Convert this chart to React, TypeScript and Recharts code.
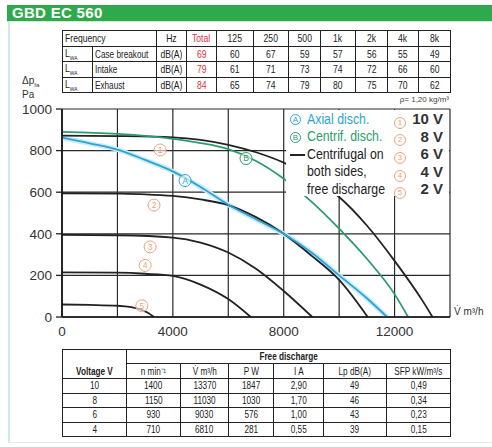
import React from 'react';
import { LineChart, Line, XAxis, YAxis, CartesianGrid, ReferenceDot } from 'recharts';

// fan curves, airflow q in m³/h, static pressure p in Pa
const curve10V = [
  { q: 0, p: 872 }, { q: 2000, p: 870 }, { q: 4000, p: 864 }, { q: 5000, p: 852 },
  { q: 6000, p: 828 }, { q: 7000, p: 792 }, { q: 8000, p: 742 }, { q: 9000, p: 670 },
  { q: 10000, p: 577 }, { q: 11000, p: 440 }, { q: 12000, p: 270 }, { q: 13000, p: 80 },
  { q: 13370, p: 0 },
];
const curve8V = [
  { q: 0, p: 595 }, { q: 2000, p: 593 }, { q: 3000, p: 590 }, { q: 4000, p: 582 },
  { q: 5000, p: 565 }, { q: 6000, p: 538 }, { q: 7000, p: 480 }, { q: 8000, p: 400 },
  { q: 9000, p: 295 }, { q: 10000, p: 178 }, { q: 11030, p: 0 },
];
const curve6V = [
  { q: 0, p: 395 }, { q: 2000, p: 393 }, { q: 4000, p: 382 }, { q: 5000, p: 358 },
  { q: 6000, p: 310 }, { q: 7000, p: 232 }, { q: 8000, p: 125 }, { q: 9030, p: 0 },
];
const curve4V = [
  { q: 0, p: 215 }, { q: 2000, p: 213 }, { q: 3000, p: 208 }, { q: 4000, p: 198 },
  { q: 5000, p: 156 }, { q: 6000, p: 86 }, { q: 6810, p: 0 },
];
const curve2V = [
  { q: 0, p: 60 }, { q: 1000, p: 58 }, { q: 2000, p: 54 }, { q: 2500, p: 47 },
  { q: 2800, p: 38 }, { q: 3100, p: 20 }, { q: 3320, p: 0 },
];
const axialCurve = [
  { q: 0, p: 862 }, { q: 1000, p: 835 }, { q: 2000, p: 805 }, { q: 3000, p: 755 },
  { q: 4000, p: 700 }, { q: 5000, p: 625 }, { q: 6000, p: 540 }, { q: 7000, p: 470 },
  { q: 8000, p: 400 }, { q: 9000, p: 310 }, { q: 10000, p: 200 }, { q: 11000, p: 90 },
  { q: 11730, p: 0 },
];
const centrifCurve = [
  { q: 0, p: 890 }, { q: 2000, p: 880 }, { q: 4000, p: 856 }, { q: 5000, p: 836 },
  { q: 6000, p: 807 }, { q: 7000, p: 750 }, { q: 8000, p: 665 }, { q: 9000, p: 555 },
  { q: 10000, p: 425 }, { q: 11000, p: 280 }, { q: 12000, p: 110 }, { q: 12490, p: 0 },
];

const xTicks = [0, 2000, 4000, 6000, 8000, 10000, 12000, 14000];
const xLabels = [0, 4000, 8000, 12000];
const yTicks = [0, 100, 200, 300, 400, 500, 600, 700, 800, 900, 1000];
const yLabels = [0, 200, 400, 600, 800, 1000];

// circled labels on the curves
const voltageMarks = [
  { q: 3540, p: 803, t: '1' },
  { q: 3320, p: 538, t: '2' },
  { q: 3180, p: 337, t: '3' },
  { q: 3000, p: 248, t: '4' },
  { q: 2880, p: 54, t: '5' },
];
const curveMarks = [
  { q: 4440, p: 656, t: 'A', color: '#2ea3d3' },
  { q: 6640, p: 762, t: 'B', color: '#2c9b6c' },
];

// sound table
const freqHeader = ['125', '250', '500', '1k', '2k', '4k', '8k'];
const soundRows = [
  { name: 'Case breakout', total: '69', bands: ['60', '67', '59', '57', '56', '55', '49'] },
  { name: 'Intake', total: '79', bands: ['61', '71', '73', '74', '72', '66', '60'] },
  { name: 'Exhaust', total: '84', bands: ['65', '74', '79', '80', '75', '70', '62'] },
];

// free discharge table
const dischargeHeader = ['n min⁻¹', 'V̇ m³/h', 'P W', 'I A', 'Lp dB(A)', 'SFP kW/m³/s'];
const dischargeRows = [
  ['10', '1400', '13370', '1847', '2,90', '49', '0,49'],
  ['8', '1150', '11030', '1030', '1,70', '46', '0,34'],
  ['6', '930', '9030', '576', '1,00', '43', '0,23'],
  ['4', '710', '6810', '281', '0,55', '39', '0,15'],
];

const legendLeft = [
  { mark: 'A', text: 'Axial disch.', color: '#2ea3d3' },
  { mark: 'B', text: 'Centrif. disch.', color: '#2c9b6c' },
  { mark: '—', text: 'Centrifugal on', color: '#222' },
  { mark: '', text: 'both sides,', color: '#222' },
  { mark: '', text: 'free discharge', color: '#222' },
];
const legendRight = ['10 V', '8 V', '6 V', '4 V', '2 V'];

const FONT = "'Liberation Sans', Arial, Helvetica, sans-serif";
const SALMON = '#eba27a';

const cell: React.CSSProperties = {
  border: '1px solid #222',
  padding: 0,
  textAlign: 'center',
  whiteSpace: 'nowrap',
  overflow: 'hidden',
};

// condensed look for table text
const N = ({ children, left = false, k = 0.82 }: { children: React.ReactNode; left?: boolean; k?: number }) => (
  <span style={{ display: 'inline-block', transform: `scaleX(${k})`, transformOrigin: left ? 'left center' : 'center center' }}>
    {children}
  </span>
);

const YTick = (props: any) => {
  const { x, y, payload } = props;
  if (!yLabels.includes(payload.value)) return null;
  return (
    <g>
      <line x1={x + 3} x2={x + 9} y1={y} y2={y} stroke="#222" strokeWidth={1.3} />
      <text x={x - 1} y={y} dy="0.36em" textAnchor="end" fontSize={13.5} fill="#333" fontFamily={FONT}>
        {payload.value}
      </text>
    </g>
  );
};

const XTick = (props: any) => {
  const { x, y, payload } = props;
  if (!xLabels.includes(payload.value)) return null;
  return (
    <text x={x} y={y} dy="0.8em" textAnchor="middle" fontSize={13.5} fill="#333" fontFamily={FONT}>
      {payload.value}
    </text>
  );
};

const circled = (t: string, color: string, textColor: string) => (props: any) => (
  <g>
    <circle cx={props.cx} cy={props.cy} r={6} fill="rgba(255,255,255,0.6)" stroke={color} strokeWidth={1} />
    <text x={props.cx} y={props.cy} dy="0.35em" textAnchor="middle" fontSize={8.5} fill={textColor} fontFamily={FONT}>
      {t}
    </text>
  </g>
);

const Badge = ({ t, color, size = 11 }: { t: string; color: string; size?: number }) => (
  <span
    style={{
      display: 'inline-block',
      width: size,
      height: size,
      lineHeight: `${size - 2}px`,
      border: `1px solid ${color}`,
      borderRadius: '50%',
      fontSize: 8,
      color,
      textAlign: 'center',
      boxSizing: 'border-box',
      verticalAlign: 'middle',
    }}
  >
    {t}
  </span>
);

export default function App() {
  const lineProps = { type: 'monotone' as const, dataKey: 'p', dot: false, isAnimationActive: false };
  return (
    <div style={{ position: 'absolute', left: 0, top: 0, width: 492, height: 447, background: '#fff', overflow: 'hidden', fontFamily: FONT }}>
      {/* title bar and frame */}
      <div style={{ position: 'absolute', left: 7, top: 5, width: 485, height: 16, background: '#2ea94c', color: '#fff', fontWeight: 'bold', fontSize: 15, lineHeight: '16px', paddingLeft: 5, boxSizing: 'border-box', letterSpacing: 0.3 }}>
        GBD EC 560
      </div>
      <div style={{ position: 'absolute', left: 7, top: 21, width: 485, height: 1, background: '#d3ead8' }} />
      <div style={{ position: 'absolute', left: 8, top: 22, width: 2, height: 421, background: '#cde8f2' }} />
      <div style={{ position: 'absolute', left: 8, top: 442, width: 484, height: 1, background: '#e4e8ea' }} />

      {/* sound power table */}
      <table style={{ position: 'absolute', left: 62, top: 30, width: 388, borderCollapse: 'collapse', tableLayout: 'fixed', fontSize: 10.5, color: '#222' }}>
        <colgroup>
          {[30, 64, 30, 30, 37, 35, 32, 35, 32, 31, 32].map((w, i) => <col key={i} style={{ width: w }} />)}
        </colgroup>
        <tbody>
          <tr style={{ height: 15.5 }}>
            <td colSpan={2} style={{ ...cell, textAlign: 'left', paddingLeft: 2 }}><N left>Frequency</N></td>
            <td style={cell}><N>Hz</N></td>
            <td style={{ ...cell, color: '#e0303a' }}><N>Total</N></td>
            {freqHeader.map((f) => <td key={f} style={cell}><N>{f}</N></td>)}
          </tr>
          {soundRows.map((r) => (
            <tr key={r.name} style={{ height: 15.5 }}>
              <td style={{ ...cell, textAlign: 'left', paddingLeft: 2 }}><N left>L<sub style={{ fontSize: 6 }}>WA</sub></N></td>
              <td style={{ ...cell, textAlign: 'left', paddingLeft: 2 }}><N left k={0.78}>{r.name}</N></td>
              <td style={cell}><N>dB(A)</N></td>
              <td style={{ ...cell, color: '#e0303a' }}><N>{r.total}</N></td>
              {r.bands.map((b, i) => <td key={i} style={cell}><N>{b}</N></td>)}
            </tr>
          ))}
        </tbody>
      </table>

      <div style={{ position: 'absolute', left: 22, top: 76, fontSize: 10, lineHeight: '10px', color: '#333' }}>
        Δp<sub style={{ fontSize: 6 }}>fa</sub>
        <br />Pa
      </div>
      <div style={{ position: 'absolute', right: 43, top: 95, fontSize: 8, color: '#444' }}>ρ= 1,20 kg/m³</div>
      <div style={{ position: 'absolute', left: 454, top: 306, fontSize: 10, color: '#333' }}>V̇ m³/h</div>

      <div style={{ position: 'absolute', left: 0, top: 0 }}>
        <LineChart width={492} height={447} margin={{ top: 109, right: 42, bottom: 100, left: 22 }}>
          <CartesianGrid stroke="#2a2a2a" strokeWidth={1.2} horizontalValues={yTicks} verticalValues={xTicks} />
          <XAxis
            type="number"
            dataKey="q"
            domain={[0, 14000]}
            ticks={xTicks}
            height={30}
            tickSize={6}
            tickMargin={2}
            tickLine={false}
            tick={<XTick />}
            axisLine={{ stroke: '#111', strokeWidth: 1.6 }}
            allowDataOverflow
          />
          <YAxis
            type="number"
            domain={[0, 1000]}
            ticks={yTicks}
            width={40}
            tickSize={6}
            tickMargin={3}
            tickLine={false}
            tick={<YTick />}
            axisLine={{ stroke: '#111', strokeWidth: 1.6 }}
            allowDataOverflow
          />
          <Line {...lineProps} data={axialCurve} stroke="#c7ebf7" strokeWidth={5} />
          <Line {...lineProps} data={curve10V} stroke="#222" strokeWidth={1.8} />
          <Line {...lineProps} data={curve8V} stroke="#222" strokeWidth={1.8} />
          <Line {...lineProps} data={curve6V} stroke="#222" strokeWidth={1.8} />
          <Line {...lineProps} data={curve4V} stroke="#222" strokeWidth={1.8} />
          <Line {...lineProps} data={curve2V} stroke="#222" strokeWidth={1.8} />
          <Line {...lineProps} data={centrifCurve} stroke="#2c9b6c" strokeWidth={1.8} />
          <Line {...lineProps} data={axialCurve} stroke="#2ea3d3" strokeWidth={1.8} />
          {voltageMarks.map((m) => (
            <ReferenceDot key={m.t} x={m.q} y={m.p} shape={circled(m.t, SALMON, SALMON)} />
          ))}
          {curveMarks.map((m) => (
            <ReferenceDot key={m.t} x={m.q} y={m.p} shape={circled(m.t, m.color, m.color)} />
          ))}
        </LineChart>
      </div>

      {/* legend box inside the plot */}
      <div style={{ position: 'absolute', left: 286, top: 110, width: 163, height: 86, background: '#fff' }}>
        {legendLeft.map((l, i) => (
          <div key={i} style={{ position: 'absolute', left: 4, top: i * 17.6, height: 17.6, lineHeight: '17.6px', fontSize: 14, color: l.color, whiteSpace: 'nowrap' }}>
            <span style={{ display: 'inline-block', width: 17, verticalAlign: 'middle' }}>
              {l.mark === 'A' || l.mark === 'B' ? <Badge t={l.mark} color={l.color} /> : l.mark === '—' ? <span style={{ display: 'inline-block', width: 15, height: 1.5, background: '#222', verticalAlign: 'middle' }} /> : null}
            </span>
            <span style={{ display: 'inline-block', verticalAlign: 'middle', transform: 'scaleX(0.88)', transformOrigin: 'left center' }}>{l.text}</span>
          </div>
        ))}
        {legendRight.map((v, i) => (
          <div key={v} style={{ position: 'absolute', left: 108, top: i * 17.6, width: 49, height: 17.6, lineHeight: '17.6px' }}>
            <span style={{ position: 'absolute', left: 0, top: 3 }}>
              <Badge t={String(i + 1)} color={SALMON} size={12} />
            </span>
            <span style={{ position: 'absolute', right: 0, top: 0, fontSize: 15, fontWeight: 'bold', color: '#333' }}>{v}</span>
          </div>
        ))}
      </div>

      {/* free discharge table */}
      <table style={{ position: 'absolute', left: 62, top: 349, width: 388, borderCollapse: 'collapse', tableLayout: 'fixed', fontSize: 10, color: '#222' }}>
        <colgroup>
          {[64, 54, 48, 45, 50, 63, 64].map((w, i) => <col key={i} style={{ width: w }} />)}
        </colgroup>
        <tbody>
          <tr style={{ height: 14 }}>
            <td rowSpan={2} style={{ ...cell, verticalAlign: 'bottom', fontWeight: 'bold', paddingBottom: 1 }}><N>Voltage V</N></td>
            <td colSpan={6} style={{ ...cell, fontWeight: 'bold' }}><N>Free discharge</N></td>
          </tr>
          <tr style={{ height: 15 }}>
            {dischargeHeader.map((h) => <td key={h} style={cell}><N>{h}</N></td>)}
          </tr>
          {dischargeRows.map((r) => (
            <tr key={r[0]} style={{ height: 14.5 }}>
              {r.map((c, i) => <td key={i} style={cell}><N>{c}</N></td>)}
            </tr>
          ))}
        </tbody>
      </table>
    </div>
  );
}
